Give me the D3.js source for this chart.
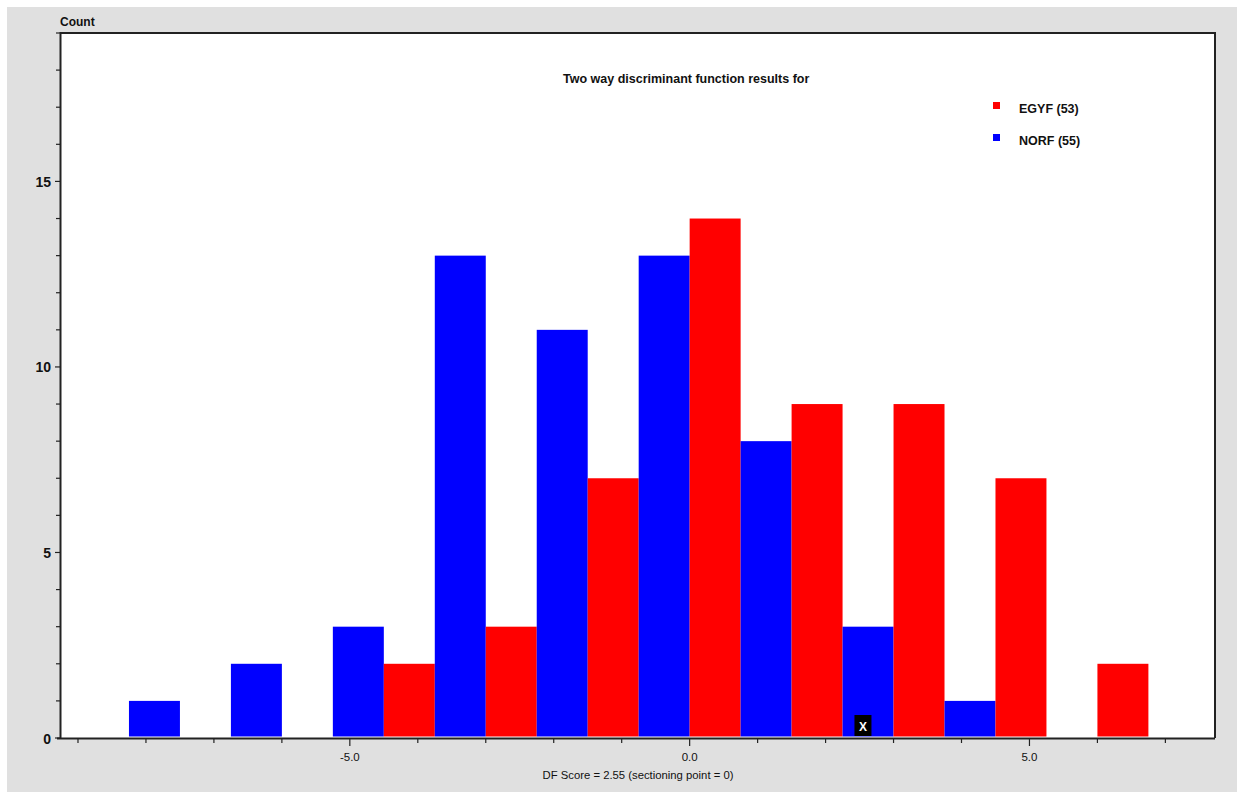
<!DOCTYPE html>
<html>
<head>
<meta charset="utf-8">
<script src="https://cdn.jsdelivr.net/npm/d3@7"></script>
<style>
  html, body { margin: 0; padding: 0; background: #ffffff; }
  svg { display: block; }
  text { font-family: "Liberation Sans", Arial, sans-serif; }
</style>
</head>
<body>
<svg id="chart" width="1242" height="792"></svg>
<script>
// Histogram bins (centre of each 1.5-wide DF score bin)
const binCenters = [-7.5, -6, -4.5, -3, -1.5, 0, 1.5, 3, 4.5, 6];
const binWidth = 1.5;
// Counts per bin for each group
const egyfCounts = [0, 0, 2, 3, 7, 14, 9, 9, 7, 2];
const norfCounts = [1, 2, 3, 13, 11, 13, 8, 3, 1, 0];
const groups = ["EGYF", "NORF"];
const groupColors = ["#ff0000", "#0000ff"];
// Axis ticks
const xTicks = d3.range(-9, 8, 1);
const xLabelTicks = [-5, 0, 5];
const yTicks = d3.range(0, 20, 1);
const yLabelTicks = [0, 5, 10, 15];
// Score of the case being classified
const dfScore = 2.55;
const sectioningPoint = 0;

const svg = d3.select("#chart");
const W = 1242, H = 792;
const plot = { left: 61, right: 1215, top: 33, bottom: 738 };

const x = d3.scaleLinear().domain([-9.25, 7.73]).range([plot.left, plot.right]);
const y = d3.scaleLinear().domain([0, 19]).range([plot.bottom, plot.top]);

// panel background
svg.append("rect").attr("x", 7).attr("y", 7).attr("width", 1230).attr("height", H - 7)
  .attr("fill", "#e0e0e0");
svg.append("rect").attr("x", plot.left).attr("y", plot.top)
  .attr("width", plot.right - plot.left).attr("height", plot.bottom - plot.top)
  .attr("fill", "#ffffff");

// bars: NORF on the left half of each bin, EGYF on the right half
const bars = [];
binCenters.forEach((c, i) => {
  bars.push({ x0: c - binWidth / 2, x1: c, v: norfCounts[i], color: groupColors[1] });
  bars.push({ x0: c, x1: c + binWidth / 2, v: egyfCounts[i], color: groupColors[0] });
});
svg.append("g").selectAll("rect").data(bars.filter(d => d.v > 0)).join("rect")
  .attr("x", d => x(d.x0))
  .attr("width", d => x(d.x1) - x(d.x0))
  .attr("y", d => y(d.v))
  .attr("height", d => y(0) - 1.5 - y(d.v))
  .attr("fill", d => d.color);

// frame (top and right)
svg.append("path")
  .attr("d", `M${plot.left},${plot.top}H${plot.right}V${plot.bottom}`)
  .attr("fill", "none").attr("stroke", "#222").attr("stroke-width", 2);

// x axis
const xAxis = svg.append("g").attr("transform", `translate(0,${plot.bottom})`);
xAxis.append("line").attr("x1", plot.left - 4).attr("x2", plot.right)
  .attr("y1", 0.5).attr("y2", 0.5).attr("stroke", "#222").attr("stroke-width", 2);
xAxis.selectAll("line.tick").data(xTicks).join("line").attr("class", "tick")
  .attr("x1", d => x(d)).attr("x2", d => x(d))
  .attr("y1", 0).attr("y2", d => xLabelTicks.includes(d) ? 8 : 5)
  .attr("stroke", "#222").attr("stroke-width", 1.2);
const fmtX = d3.format(".1f");
xAxis.selectAll("text").data(xLabelTicks).join("text")
  .attr("x", d => x(d)).attr("y", 22.5)
  .attr("text-anchor", "middle").attr("font-size", 11.5).attr("fill", "#111")
  .text(d => fmtX(d).replace("\u2212", "-"));

// y axis
const yAxis = svg.append("g").attr("transform", `translate(${plot.left},0)`);
yAxis.append("line").attr("x1", -0.5).attr("x2", -0.5)
  .attr("y1", plot.top - 1).attr("y2", plot.bottom + 1).attr("stroke", "#222").attr("stroke-width", 2);
yAxis.selectAll("line.tick").data(yTicks).join("line").attr("class", "tick")
  .attr("x1", d => yLabelTicks.includes(d) ? -6 : -5).attr("x2", 0)
  .attr("y1", d => y(d)).attr("y2", d => y(d))
  .attr("stroke", "#222").attr("stroke-width", 1.2);
yAxis.selectAll("text").data(yLabelTicks).join("text")
  .attr("x", -10).attr("y", d => y(d) + 5.5)
  .attr("text-anchor", "end").attr("font-size", 14).attr("font-weight", "bold")
  .attr("fill", "#111").text(d => d);

svg.append("text").attr("x", plot.left - 1).attr("y", 26)
  .attr("font-size", 12).attr("font-weight", "bold").attr("fill", "#111").text("Count");

// axis title
svg.append("text").attr("x", (plot.left + plot.right) / 2).attr("y", 779)
  .attr("text-anchor", "middle").attr("font-size", 11.3).attr("fill", "#111")
  .text(`DF Score = ${dfScore} (sectioning point = ${sectioningPoint})`);

// chart title
svg.append("text").attr("x", 563).attr("y", 83)
  .attr("font-size", 12.5).attr("font-weight", "bold").attr("fill", "#111")
  .text("Two way discriminant function results for");

// legend
const totals = [d3.sum(egyfCounts), d3.sum(norfCounts)];
const legend = svg.append("g");
groups.forEach((g, i) => {
  const ly = 102 + i * 32;
  legend.append("rect").attr("x", 993).attr("y", ly).attr("width", 7).attr("height", 7)
    .attr("fill", groupColors[i]);
  legend.append("text").attr("x", 1019).attr("y", ly + 10.5)
    .attr("font-size", 12.5).attr("font-weight", "bold").attr("fill", "#111")
    .text(`${g} (${totals[i]})`);
});

// marker at the case's DF score
const mk = svg.append("g").attr("transform", `translate(${x(dfScore)},${plot.bottom - 2})`);
mk.append("rect").attr("x", -8.5).attr("y", -21).attr("width", 17).attr("height", 21).attr("fill", "#000");
mk.append("text").attr("x", 0).attr("y", -5).attr("text-anchor", "middle")
  .attr("font-size", 12).attr("font-weight", "bold").attr("fill", "#fff").text("X");
</script>
</body>
</html>
